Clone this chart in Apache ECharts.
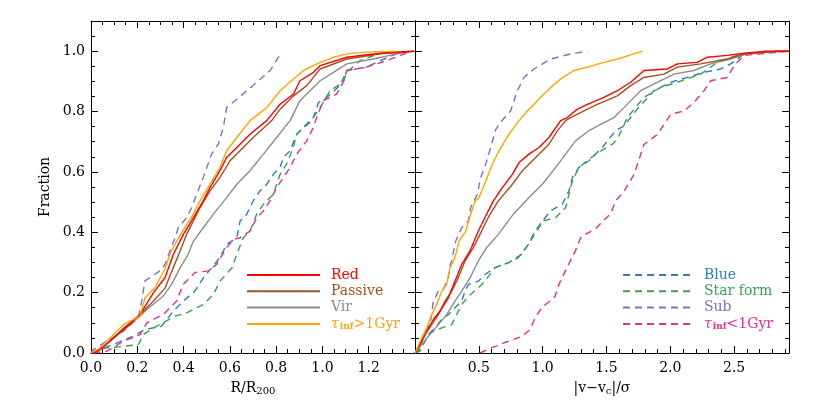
<!DOCTYPE html>
<html>
<head>
<meta charset="utf-8">
<script src="https://cdn.jsdelivr.net/npm/echarts@6/dist/echarts.min.js"></script>
<style>html,body{margin:0;padding:0;background:#fff}#c{width:830px;height:415px}</style>
</head>
<body>
<div id="c"></div>
<script>
// ---------- Left panel: R/R200 ----------
const rRed = [[0.01,0],[0.039,0.011],[0.097,0.05],[0.154,0.089],[0.212,0.128],[0.27,0.2],[0.32,0.25],[0.356,0.327],[0.399,0.393],[0.442,0.448],[0.485,0.504],[0.514,0.548],[0.557,0.604],[0.586,0.648],[0.644,0.692],[0.687,0.725],[0.759,0.77],[0.817,0.824],[0.875,0.858],[0.903,0.902],[0.961,0.93],[0.99,0.952],[1.105,0.98],[1.25,0.993],[1.393,1.0]];
const rPassive = [[0.01,0],[0.039,0.011],[0.097,0.05],[0.169,0.094],[0.219,0.133],[0.27,0.172],[0.32,0.215],[0.355,0.282],[0.385,0.338],[0.413,0.393],[0.442,0.437],[0.471,0.482],[0.514,0.537],[0.557,0.581],[0.601,0.637],[0.644,0.67],[0.701,0.714],[0.781,0.77],[0.817,0.808],[0.875,0.852],[0.932,0.886],[0.99,0.941],[1.105,0.974],[1.25,0.991],[1.393,1.0]];
const rVir = [[0.01,0],[0.024,0.006],[0.082,0.039],[0.14,0.083],[0.205,0.117],[0.241,0.144],[0.313,0.189],[0.349,0.228],[0.385,0.282],[0.42,0.327],[0.442,0.37],[0.485,0.415],[0.529,0.46],[0.586,0.515],[0.63,0.559],[0.687,0.604],[0.745,0.659],[0.802,0.714],[0.86,0.77],[0.903,0.836],[0.99,0.902],[1.048,0.93],[1.105,0.958],[1.22,0.974],[1.32,0.991],[1.393,1.0]];
const rOld = [[0,0],[0.039,0.017],[0.082,0.05],[0.14,0.094],[0.212,0.122],[0.233,0.183],[0.277,0.217],[0.32,0.28],[0.341,0.327],[0.37,0.371],[0.413,0.425],[0.442,0.46],[0.471,0.504],[0.514,0.559],[0.557,0.615],[0.586,0.67],[0.63,0.714],[0.687,0.77],[0.759,0.813],[0.817,0.869],[0.875,0.908],[0.918,0.936],[0.976,0.958],[1.048,0.98],[1.105,0.991],[1.177,0.997],[1.32,1.0]];
const rSub = [[0,0],[0.01,0.011],[0.068,0.039],[0.14,0.072],[0.205,0.117],[0.219,0.172],[0.233,0.239],[0.298,0.272],[0.32,0.294],[0.341,0.338],[0.363,0.382],[0.377,0.415],[0.413,0.448],[0.435,0.482],[0.457,0.526],[0.485,0.581],[0.521,0.659],[0.55,0.692],[0.572,0.748],[0.586,0.813],[0.63,0.841],[0.70,0.886],[0.774,0.936],[0.81,0.98],[0.817,0.986]];
const rBlue = [[0.01,0],[0.039,0.011],[0.111,0.033],[0.183,0.056],[0.233,0.078],[0.305,0.089],[0.356,0.139],[0.399,0.172],[0.45,0.206],[0.486,0.25],[0.522,0.283],[0.557,0.316],[0.586,0.36],[0.63,0.382],[0.644,0.437],[0.673,0.46],[0.701,0.504],[0.73,0.537],[0.759,0.559],[0.788,0.592],[0.817,0.615],[0.831,0.648],[0.86,0.67],[0.889,0.725],[0.932,0.759],[0.961,0.78],[0.983,0.83],[1.019,0.847],[1.076,0.886],[1.105,0.936],[1.19,0.947],[1.25,0.969],[1.32,0.991],[1.393,1.0]];
const rStar = [[0,0],[0.01,0.006],[0.068,0.017],[0.14,0.022],[0.205,0.028],[0.226,0.061],[0.284,0.089],[0.363,0.122],[0.413,0.133],[0.486,0.161],[0.529,0.194],[0.558,0.239],[0.61,0.283],[0.63,0.327],[0.658,0.382],[0.687,0.404],[0.716,0.46],[0.745,0.493],[0.788,0.526],[0.817,0.592],[0.845,0.626],[0.874,0.681],[0.889,0.725],[0.947,0.765],[0.99,0.813],[1.033,0.869],[1.09,0.897],[1.105,0.93],[1.163,0.969],[1.25,0.993],[1.393,1.0]];
const rYoung = [[0.01,0],[0.068,0.006],[0.14,0.039],[0.212,0.061],[0.241,0.1],[0.313,0.128],[0.37,0.172],[0.399,0.228],[0.45,0.267],[0.507,0.272],[0.543,0.294],[0.586,0.349],[0.615,0.376],[0.644,0.382],[0.687,0.404],[0.716,0.448],[0.745,0.471],[0.773,0.504],[0.802,0.548],[0.831,0.581],[0.86,0.615],[0.889,0.659],[0.932,0.703],[0.961,0.748],[0.975,0.78],[1.004,0.836],[1.061,0.858],[1.09,0.897],[1.105,0.936],[1.19,0.947],[1.278,0.969],[1.336,0.986],[1.393,1.0]];

// ---------- Right panel: |v - vc| / sigma ----------
const vRed = [[0,0],[0.013,0.003],[0.039,0.028],[0.091,0.072],[0.144,0.111],[0.196,0.139],[0.261,0.183],[0.313,0.238],[0.366,0.294],[0.431,0.338],[0.496,0.404],[0.548,0.449],[0.614,0.504],[0.684,0.548],[0.763,0.592],[0.815,0.631],[0.893,0.659],[0.971,0.681],[1.049,0.714],[1.141,0.77],[1.193,0.78],[1.272,0.808],[1.35,0.824],[1.48,0.847],[1.585,0.869],[1.689,0.897],[1.794,0.936],[1.976,0.941],[2.055,0.958],[2.211,0.963],[2.29,0.98],[2.446,0.986],[2.577,0.993],[2.75,1.0],[2.93,1.0]];
const vPassive = [[0,0],[0.026,0.017],[0.078,0.061],[0.131,0.094],[0.183,0.127],[0.235,0.172],[0.287,0.205],[0.339,0.249],[0.392,0.305],[0.457,0.349],[0.522,0.404],[0.574,0.449],[0.653,0.504],[0.763,0.559],[0.841,0.604],[0.945,0.648],[1.049,0.692],[1.115,0.736],[1.18,0.77],[1.219,0.78],[1.324,0.802],[1.428,0.824],[1.585,0.852],[1.689,0.886],[1.794,0.913],[1.95,0.924],[2.055,0.947],[2.238,0.958],[2.446,0.974],[2.577,0.991],[2.838,1.0],[2.93,1.0]];
const vVir = [[0,0],[0.013,0],[0.052,0.028],[0.117,0.061],[0.183,0.094],[0.248,0.127],[0.313,0.172],[0.366,0.205],[0.431,0.249],[0.496,0.305],[0.561,0.349],[0.653,0.393],[0.77,0.46],[0.893,0.515],[0.998,0.559],[1.102,0.615],[1.18,0.659],[1.258,0.703],[1.363,0.737],[1.48,0.763],[1.559,0.78],[1.637,0.813],[1.768,0.869],[1.898,0.897],[2.029,0.924],[2.185,0.936],[2.316,0.958],[2.473,0.974],[2.577,0.989],[2.838,1.0],[2.93,1.0]];
const vOld = [[0,0],[0.013,0.003],[0.052,0.05],[0.091,0.083],[0.131,0.127],[0.17,0.161],[0.209,0.205],[0.248,0.227],[0.274,0.283],[0.313,0.316],[0.345,0.371],[0.397,0.404],[0.436,0.46],[0.47,0.504],[0.501,0.515],[0.554,0.57],[0.606,0.626],[0.658,0.67],[0.736,0.725],[0.815,0.77],[0.88,0.802],[0.984,0.847],[1.063,0.88],[1.141,0.908],[1.245,0.936],[1.35,0.947],[1.48,0.963],[1.585,0.974],[1.715,0.991],[1.78,1.0]];
const vSub = [[0,0],[0.013,0],[0.039,0.028],[0.078,0.061],[0.123,0.106],[0.144,0.172],[0.183,0.205],[0.222,0.211],[0.261,0.249],[0.275,0.29],[0.287,0.305],[0.319,0.371],[0.366,0.415],[0.418,0.438],[0.436,0.482],[0.488,0.526],[0.514,0.581],[0.554,0.626],[0.593,0.681],[0.632,0.74],[0.671,0.765],[0.749,0.802],[0.802,0.869],[0.854,0.913],[0.932,0.941],[1.063,0.974],[1.22,0.991],[1.35,1.0]];
const vBlue = [[0,0],[0.013,0],[0.039,0.011],[0.078,0.039],[0.117,0.067],[0.157,0.083],[0.209,0.111],[0.261,0.127],[0.313,0.15],[0.366,0.172],[0.392,0.205],[0.418,0.227],[0.496,0.238],[0.548,0.26],[0.627,0.283],[0.731,0.299],[0.836,0.327],[0.888,0.36],[0.94,0.404],[0.998,0.437],[1.063,0.471],[1.154,0.493],[1.206,0.537],[1.233,0.581],[1.284,0.615],[1.363,0.637],[1.467,0.681],[1.572,0.737],[1.637,0.752],[1.741,0.808],[1.872,0.869],[2.003,0.897],[2.133,0.913],[2.264,0.93],[2.394,0.941],[2.473,0.958],[2.577,0.991],[2.708,0.997],[2.93,1.0]];
const vStar = [[0,0],[0.039,0.006],[0.078,0.039],[0.104,0.061],[0.144,0.072],[0.209,0.083],[0.287,0.094],[0.326,0.127],[0.366,0.161],[0.418,0.188],[0.496,0.216],[0.548,0.238],[0.627,0.283],[0.731,0.299],[0.809,0.316],[0.888,0.36],[0.94,0.394],[1.005,0.438],[1.102,0.448],[1.18,0.482],[1.206,0.526],[1.233,0.57],[1.284,0.615],[1.415,0.659],[1.546,0.692],[1.585,0.708],[1.663,0.78],[1.794,0.847],[1.924,0.88],[2.055,0.897],[2.238,0.924],[2.368,0.963],[2.473,0.98],[2.577,0.991],[2.93,1.0]];
const vYoung = [[0.509,0],[0.6,0.017],[0.731,0.039],[0.836,0.055],[0.901,0.078],[0.94,0.116],[0.992,0.15],[1.057,0.172],[1.097,0.188],[1.13,0.23],[1.19,0.283],[1.258,0.34],[1.30,0.385],[1.41,0.41],[1.49,0.445],[1.53,0.46],[1.572,0.504],[1.637,0.536],[1.715,0.591],[1.794,0.691],[1.898,0.724],[2.003,0.791],[2.107,0.802],[2.185,0.83],[2.264,0.869],[2.316,0.902],[2.446,0.913],[2.499,0.952],[2.577,0.986],[2.708,0.991],[2.93,1.0]];

// ---------- Labels / ticks ----------
const leftLegendNames = ['Red', 'Passive', 'Vir', 'τinf>1Gyr'];
const rightLegendNames = ['Blue', 'Star form', 'Sub', 'τinf<1Gyr'];
const yTitle = 'Fraction';
const leftXTitle = ['R/R', '200'];
const rightXTitle = '|v−v';
const rightXTitleSub = 'c';
const rightXTitleEnd = '|/σ';

const FONT = 'DejaVu Serif';
const COL = {
  'Red': '#ff0000', 'Passive': '#a5501f', 'Vir': '#8c8c8c', 'τinf>1Gyr': '#ffa500',
  'Blue': '#2f7dbd', 'Star form': '#3a9f55', 'Sub': '#7f6fc6', 'τinf<1Gyr': '#e3308f'
};
const DASHED = {'Blue': true, 'Star form': true, 'Sub': true, 'τinf<1Gyr': true};

const chart = echarts.init(document.getElementById('c'), null, {renderer: 'canvas'});

function xAx(gi, max, interval, split, pos, labels, extra) {
  return Object.assign({
    type: 'value', gridIndex: gi, min: 0, max: max, interval: interval, position: pos,
    axisLine: {show: true, onZero: false, lineStyle: {color: '#000', width: 1}},
    axisTick: {show: true, inside: true, length: 7, lineStyle: {color: '#000', width: 1}},
    minorTick: {show: true, splitNumber: split, length: 4, lineStyle: {color: '#000', width: 1}},
    splitLine: {show: false}, minorSplitLine: {show: false},
    axisLabel: labels ? {show: true, color: '#000', fontFamily: FONT, fontSize: 14, margin: 8,
      formatter: v => v.toFixed(1)} : {show: false},
    nameMoveOverlap: false
  }, extra || {});
}
function yAx(gi, pos, labels, extra) {
  return Object.assign({
    type: 'value', gridIndex: gi, min: 0, max: 1.1, interval: 0.2, position: pos,
    axisLine: {show: true, onZero: false, lineStyle: {color: '#000', width: 1}},
    axisTick: {show: true, inside: true, length: 7, lineStyle: {color: '#000', width: 1}},
    minorTick: {show: true, splitNumber: 4, length: 4, lineStyle: {color: '#000', width: 1}},
    splitLine: {show: false}, minorSplitLine: {show: false},
    axisLabel: labels ? {show: true, color: '#000', fontFamily: FONT, fontSize: 14, margin: 6,
      showMaxLabel: false, formatter: v => v.toFixed(1)} : {show: false},
    nameMoveOverlap: false
  }, extra || {});
}

const nameRich = {
  a: {fontFamily: FONT, fontSize: 14, color: '#000', lineHeight: 16},
  s: {fontFamily: FONT, fontSize: 10, color: '#000', lineHeight: 10, verticalAlign: 'bottom', padding: [10, 0, 0, 0]}
};

const xAxes = [
  xAx(0, 1.4, 0.2, 4, 'bottom', true, {
    axisLabel: {show: true, color: '#000', fontFamily: FONT, fontSize: 14, margin: 8, showMaxLabel: false, formatter: v => v.toFixed(1)},
    name: '{a|' + leftXTitle[0] + '}{s|' + leftXTitle[1] + '}', nameLocation: 'middle', nameGap: 27,
    nameTextStyle: {rich: nameRich}
  }),
  xAx(0, 1.4, 0.2, 4, 'top', false),
  xAx(1, 2.93, 0.5, 5, 'bottom', true, {
    axisLabel: {show: true, color: '#000', fontFamily: FONT, fontSize: 14, margin: 8, showMinLabel: false, showMaxLabel: false, formatter: v => v.toFixed(1)},
    name: '{a|' + rightXTitle + '}{s|' + rightXTitleSub + '}{a|' + rightXTitleEnd + '}', nameLocation: 'middle', nameGap: 27,
    nameTextStyle: {rich: nameRich}
  }),
  xAx(1, 2.93, 0.5, 5, 'top', false)
];
const yAxes = [
  yAx(0, 'left', true, {name: yTitle, nameLocation: 'middle', nameGap: 39,
    nameTextStyle: {fontFamily: FONT, fontSize: 14, color: '#000'}}),
  yAx(0, 'right', false),
  yAx(1, 'left', false),
  yAx(1, 'right', false)
];

function ser(name, data, panel) {
  return {
    type: 'line', name: name, data: data, xAxisIndex: panel * 2, yAxisIndex: panel * 2,
    symbol: 'none', showSymbol: false, smooth: false, animation: false, silent: true,
    itemStyle: {color: COL[name]},
    lineStyle: {color: COL[name], width: 1.4, type: DASHED[name] ? [7, 5] : 'solid'},
    z: DASHED[name] ? 2 : 3
  };
}

const series = [
  ser('Vir', rVir, 0), ser('Passive', rPassive, 0), ser('Red', rRed, 0), ser('τinf>1Gyr', rOld, 0),
  ser('Blue', rBlue, 0), ser('Star form', rStar, 0), ser('Sub', rSub, 0), ser('τinf<1Gyr', rYoung, 0),
  ser('Vir', vVir, 1), ser('Passive', vPassive, 1), ser('Red', vRed, 1), ser('τinf>1Gyr', vOld, 1),
  ser('Blue', vBlue, 1), ser('Star form', vStar, 1), ser('Sub', vSub, 1), ser('τinf<1Gyr', vYoung, 1)
];

function legendFormatter(name) {
  if (name.indexOf('τinf') === 0) {
    const tag = name.indexOf('>') > 0 ? 'o' : 'm';
    return '{t' + tag + '|τ}{s' + tag + '|inf}{r' + tag + '|' + name.slice(4) + '}';
  }
  return name;
}
function legendRich() {
  const r = {};
  [['o', COL['τinf>1Gyr']], ['m', COL['τinf<1Gyr']]].forEach(([k, c]) => {
    r['t' + k] = {fontFamily: FONT, fontSize: 14, color: c, lineHeight: 14, fontStyle: 'italic'};
    r['s' + k] = {fontFamily: FONT, fontSize: 9, color: c, lineHeight: 9, verticalAlign: 'bottom', padding: [2, 0, 0, 1], fontWeight: 'bold'};
    r['r' + k] = {fontFamily: FONT, fontSize: 14, color: c, lineHeight: 14};
  });
  return r;
}
function mkLegend(names, left, w) {
  return {
    orient: 'vertical', left: left, top: 268, padding: 0, itemWidth: w, itemHeight: 14, itemGap: 2.3,
    selectedMode: false,
    itemStyle: {opacity: 0},
    data: names.map(n => ({name: n, textStyle: {color: COL[n]}})),
    formatter: legendFormatter,
    textStyle: {fontFamily: FONT, fontSize: 14, lineHeight: 14, padding: [0, 0, 0, 6], rich: legendRich()}
  };
}

chart.setOption({
  backgroundColor: '#fff',
  animation: false,
  grid: [
    {left: 91, top: 21, width: 324, height: 332, containLabel: false, outerBoundsMode: 'none'},
    {left: 415, top: 21, width: 374, height: 332, containLabel: false, outerBoundsMode: 'none'}
  ],
  xAxis: xAxes,
  yAxis: yAxes,
  legend: [mkLegend(leftLegendNames, 246, 73), mkLegend(rightLegendNames, 622, 70)],
  series: series
});
</script>
</body>
</html>
